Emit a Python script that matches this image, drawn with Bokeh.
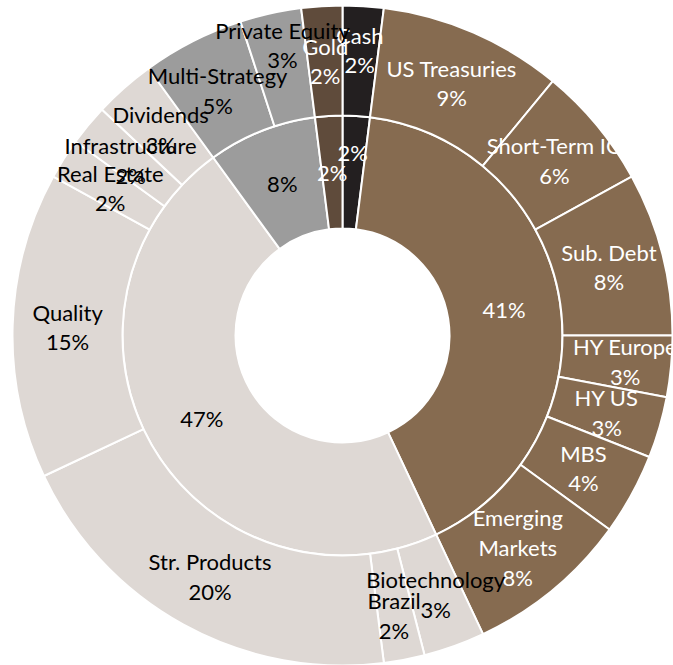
import math
from bokeh.plotting import figure
from bokeh.models import Range1d, ColumnDataSource
from bokeh.core.properties import value
from bokeh.embed import file_html
from bokeh.resources import INLINE

# ---- data ----
inner_groups = ["Cash", "Fixed Income", "Equities", "Alternatives", "Gold"]
inner_values = [2, 41, 47, 8, 2]

outer_names = ["Cash", "US Treasuries", "Short-Term IG", "Sub. Debt", "HY Europe", "HY US",
               "MBS", "Emerging Markets", "Biotechnology", "Brazil", "Str. Products", "Quality",
               "Real Estate", "Infrastructure", "Dividends", "Multi-Strategy", "Private Equity", "Gold"]
outer_values = [2, 9, 6, 8, 3, 3, 4, 8, 3, 2, 20, 15, 2, 2, 3, 5, 3, 2]
outer_parent = ["Cash", "Fixed Income", "Fixed Income", "Fixed Income", "Fixed Income", "Fixed Income",
                "Fixed Income", "Fixed Income", "Equities", "Equities", "Equities", "Equities",
                "Equities", "Equities", "Equities", "Alternatives", "Alternatives", "Gold"]
outer_display = {"Emerging Markets": "Emerging\nMarkets"}

# ---- styles ----
fill = {"Cash": "#231F20", "Fixed Income": "#866B50", "Equities": "#DED8D4",
        "Alternatives": "#9C9C9C", "Gold": "#5F4B3B"}
text_col = {"Cash": "#FFFFFF", "Fixed Income": "#FFFFFF", "Equities": "#000000",
            "Alternatives": "#000000", "Gold": "#FFFFFF"}
R_IN, R_MID, R_OUT = 107, 220, 330
FONT = "Lato"
FS = "22px"
# label nudges in screen pixels (dx right, dy down)
outer_nudge = {"Private Equity": (0, -22), "Cash": (0, -11), "Brazil": (0, 10), "HY Europe": (9, 0)}
inner_nudge = {"Cash": (0, -20)}

W, H = 673, 665
CX, CY = 342, 335  # center in figure pixel coords (from top-left)

p = figure(width=W, height=H, output_backend="svg", toolbar_location=None,
           x_range=Range1d(-CX, W - CX), y_range=Range1d(CY - H, CY),
           min_border=0, outline_line_color=None)
p.axis.visible = False
p.grid.visible = False
p.background_fill_color = "white"


def wedges(values):
    tot = float(sum(values))
    starts, ends, mids = [], [], []
    c = 0.0
    for v in values:
        f0, f1 = c / tot, (c + v) / tot
        starts.append(math.pi / 2 - f0 * 2 * math.pi)
        ends.append(math.pi / 2 - f1 * 2 * math.pi)
        mids.append((f0 + f1) / 2)
        c += v
    return starts, ends, mids


# inner ring
s, e, m = wedges(inner_values)
src_in = ColumnDataSource(dict(start=s, end=e, color=[fill[g] for g in inner_groups]))
p.annular_wedge(x=0, y=0, inner_radius=R_IN, outer_radius=R_MID, start_angle="start",
                end_angle="end", direction="clock", fill_color="color",
                line_color="white", line_width=2, source=src_in)
rl = (R_IN + R_MID) / 2
tx, ty, tt, tc = [], [], [], []
for g, v, f in zip(inner_groups, inner_values, m):
    dx, dy = inner_nudge.get(g, (0, 0))
    tx.append(rl * math.sin(2 * math.pi * f) + dx)
    ty.append(rl * math.cos(2 * math.pi * f) - dy)
    tt.append(f"{v}%")
    tc.append(text_col[g])
p.text(x=tx, y=ty, text=tt, text_color=tc, text_align="center", text_baseline="middle",
       text_font=value(FONT), text_font_size=FS)

# outer ring
s, e, m = wedges(outer_values)
src_out = ColumnDataSource(dict(start=s, end=e, color=[fill[g] for g in outer_parent]))
p.annular_wedge(x=0, y=0, inner_radius=R_MID, outer_radius=R_OUT, start_angle="start",
                end_angle="end", direction="clock", fill_color="color",
                line_color="white", line_width=2, source=src_out)
ro = (R_MID + R_OUT) / 2
tx, ty, tt, tc = [], [], [], []
for n, v, g, f in zip(outer_names, outer_values, outer_parent, m):
    dx, dy = outer_nudge.get(n, (0, 0))
    tx.append(ro * math.sin(2 * math.pi * f) + dx)
    ty.append(ro * math.cos(2 * math.pi * f) - dy)
    tt.append(f"{outer_display.get(n, n)}\n{v}%")
    tc.append(text_col[g])
p.text(x=tx, y=ty, text=tt, text_color=tc, text_align="center", text_baseline="middle",
       text_font=value(FONT), text_font_size=FS, text_line_height=1.1)

open("out.html", "w").write(file_html(p, INLINE))
